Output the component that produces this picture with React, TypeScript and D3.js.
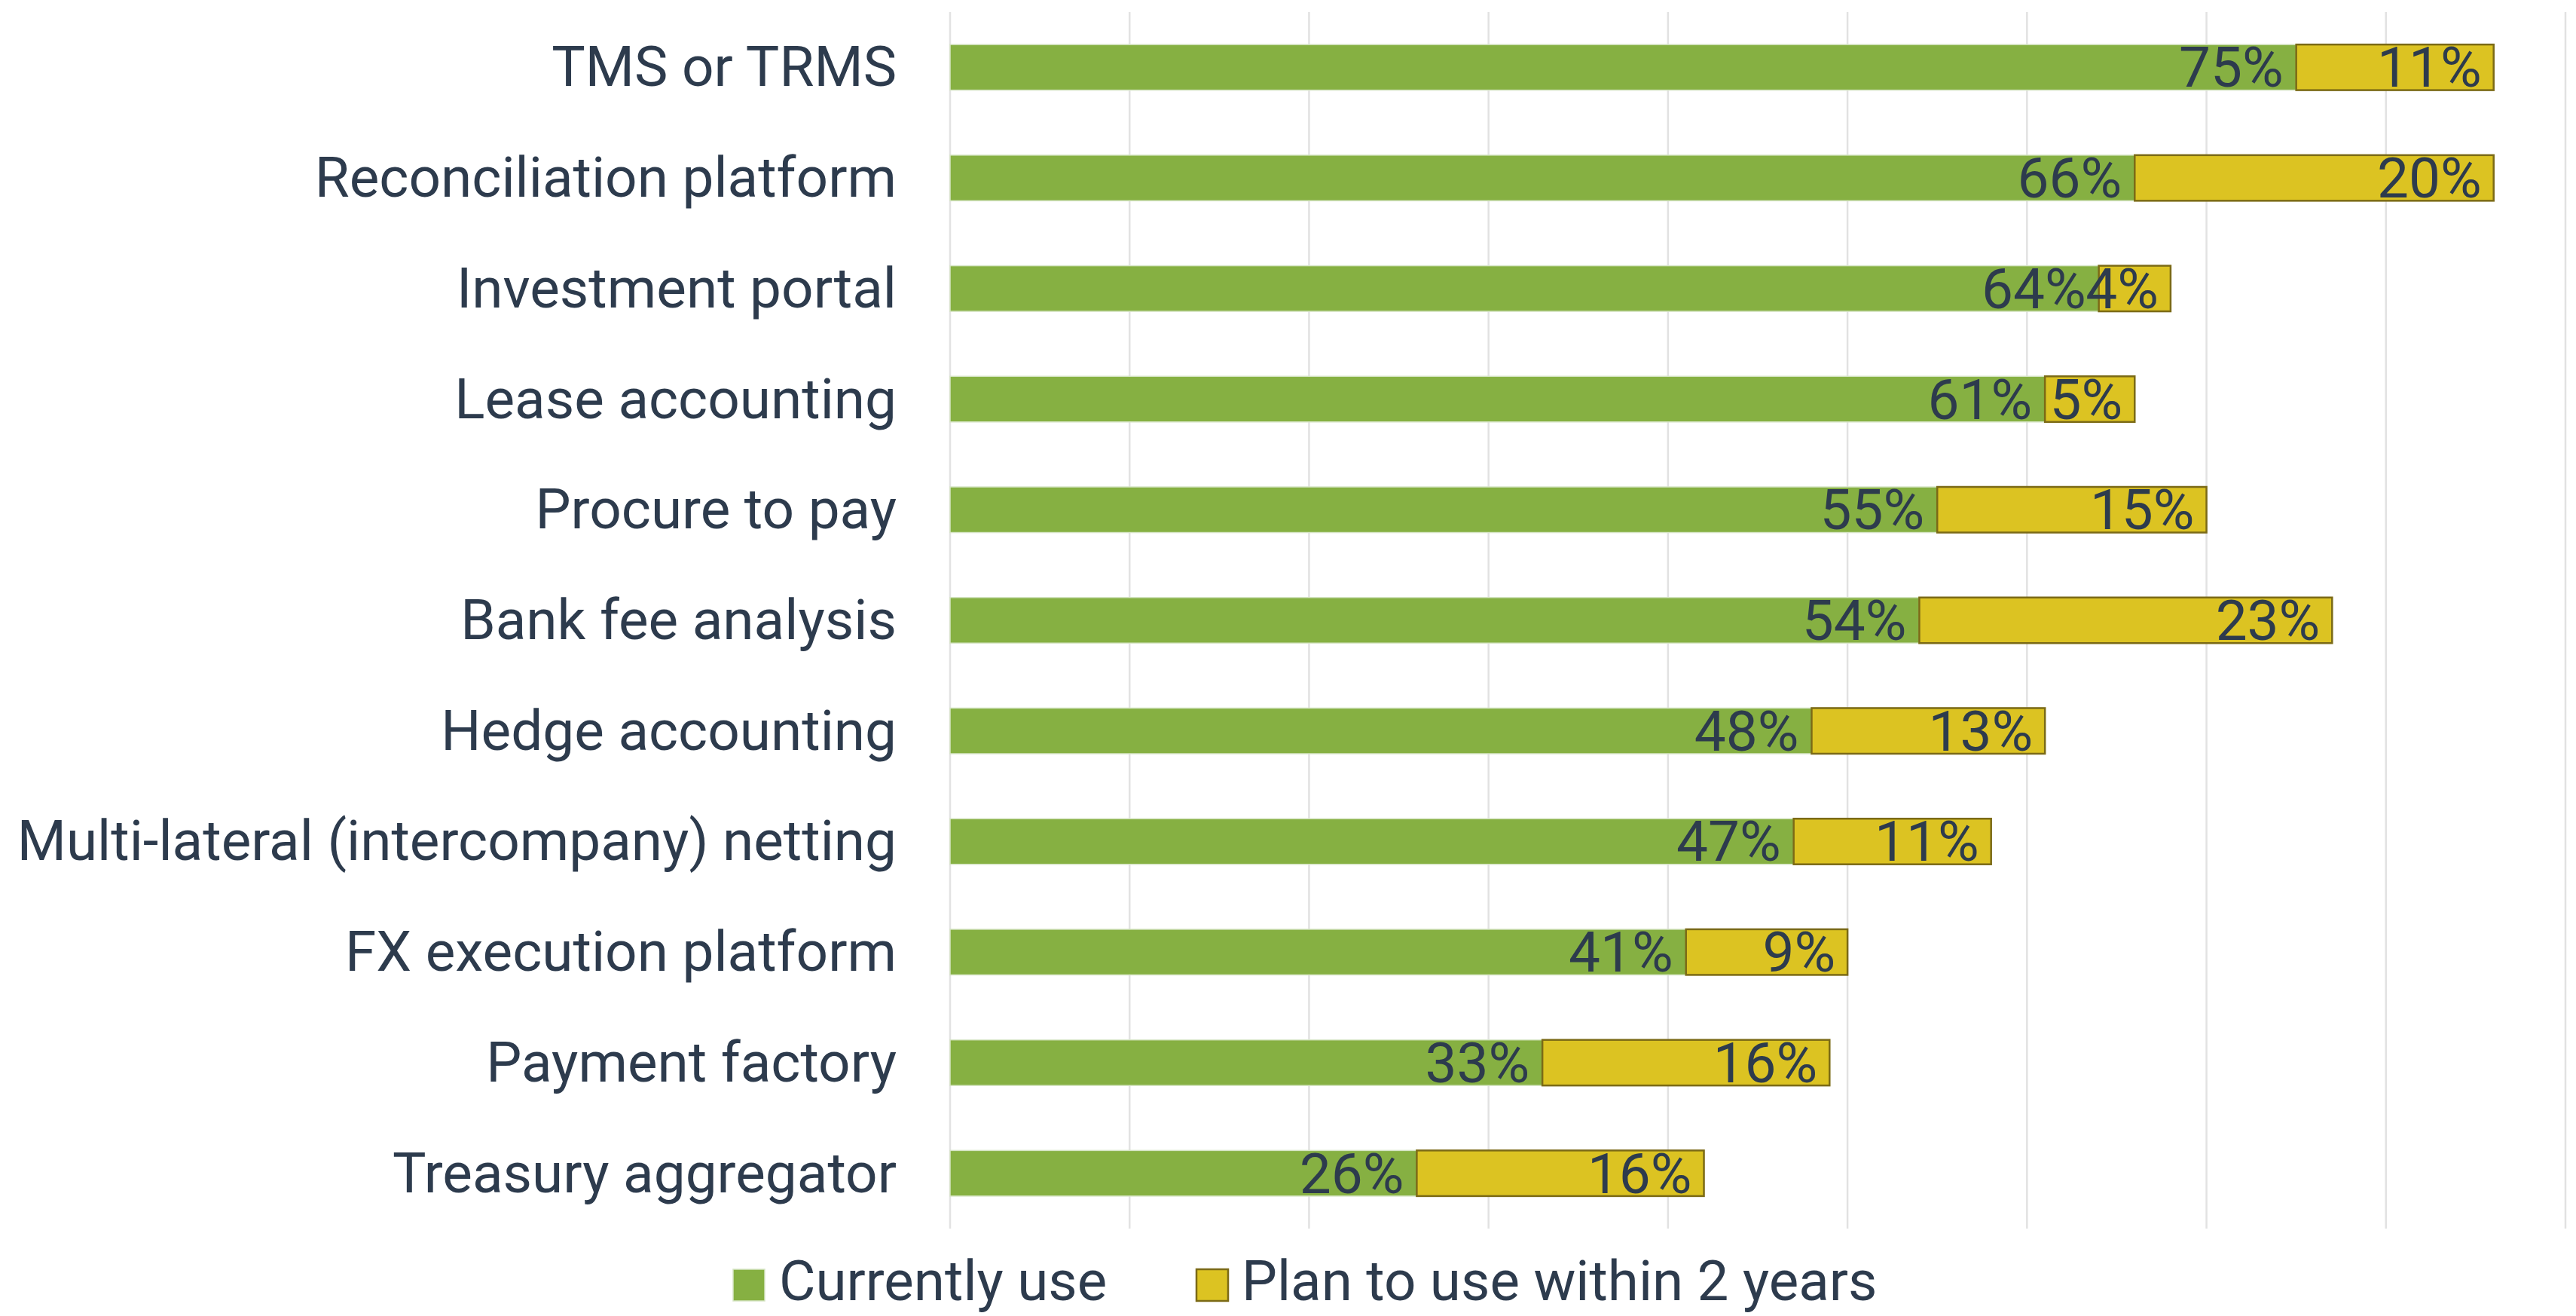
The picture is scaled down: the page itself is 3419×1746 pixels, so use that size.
import React from "react";
import * as d3 from "d3";

const categories = [
  "TMS or TRMS",
  "Reconciliation platform",
  "Investment portal",
  "Lease accounting",
  "Procure to pay",
  "Bank fee analysis",
  "Hedge accounting",
  "Multi-lateral (intercompany) netting",
  "FX execution platform",
  "Payment factory",
  "Treasury aggregator",
];
const currentlyUse = [75, 66, 64, 61, 55, 54, 48, 47, 41, 33, 26];
const planToUse = [11, 20, 4, 5, 15, 23, 13, 11, 9, 16, 16];
const seriesNames = ["Currently use", "Plan to use within 2 years"];
const gridTicks = [0, 10, 20, 30, 40, 50, 60, 70, 80, 90];

const W = 3419;
const H = 1746;
const GREEN = "#86b042";
const YELLOW = "#dcc322";
const YELLOW_STROKE = "#7b6a16";
const TEXT = "#2d3b4d";
const FONT = "Roboto, 'Noto Sans', sans-serif";

export default function App() {
  const x = d3.scaleLinear().domain([0, 90]).range([1261, 3405]);
  const y = d3
    .scaleBand<string>()
    .domain(categories)
    .range([16, 1630])
    .paddingInner(0.5875)
    .paddingOuter(0.29375);
  const bw = y.bandwidth();
  const fs = 74.7;

  return (
    <svg
      width={W}
      height={H}
      style={{ position: "absolute", left: 0, top: 0, display: "block", background: "#fff" }}
      fontFamily={FONT}
    >
      <rect x={0} y={0} width={W} height={H} fill="#fff" />
      {gridTicks.map((t) => (
        <line key={t} x1={x(t)} x2={x(t)} y1={16} y2={1630} stroke="#e2e2e2" strokeWidth={2.5} />
      ))}
      {categories.map((c, i) => {
        const y0 = y(c)!;
        const cy = y0 + bw / 2;
        const g0 = x(0);
        const g1 = x(currentlyUse[i]);
        const p1 = x(currentlyUse[i] + planToUse[i]);
        return (
          <g key={c}>
            <text x={1190} y={cy + 25} textAnchor="end" fontSize={fs} fill={TEXT}>
              {c}
            </text>
            <rect x={g0} y={y0} width={g1 - g0} height={bw} fill={GREEN} stroke="#d6e5c5" strokeWidth={1.5} />
            <rect x={g1} y={y0} width={p1 - g1} height={bw} fill={YELLOW} stroke={YELLOW_STROKE} strokeWidth={2.5} />
            <text x={g1 - 17} y={cy + 26} textAnchor="end" fontSize={fs} fill={TEXT}>
              {currentlyUse[i]}%
            </text>
            <text x={p1 - 16} y={cy + 26} textAnchor="end" fontSize={fs} fill={TEXT}>
              {planToUse[i]}%
            </text>
          </g>
        );
      })}
      <g>
        <rect x={973} y={1684} width={42} height={42} fill={GREEN} stroke="#d6e5c5" strokeWidth={1.5} />
        <text x={1034} y={1725} fontSize={74.5} fill={TEXT}>
          {seriesNames[0]}
        </text>
        <rect x={1588} y={1684} width={42} height={42} fill={YELLOW} stroke={YELLOW_STROKE} strokeWidth={2.5} />
        <text x={1648} y={1725} fontSize={74.5} fill={TEXT}>
          {seriesNames[1]}
        </text>
      </g>
    </svg>
  );
}
